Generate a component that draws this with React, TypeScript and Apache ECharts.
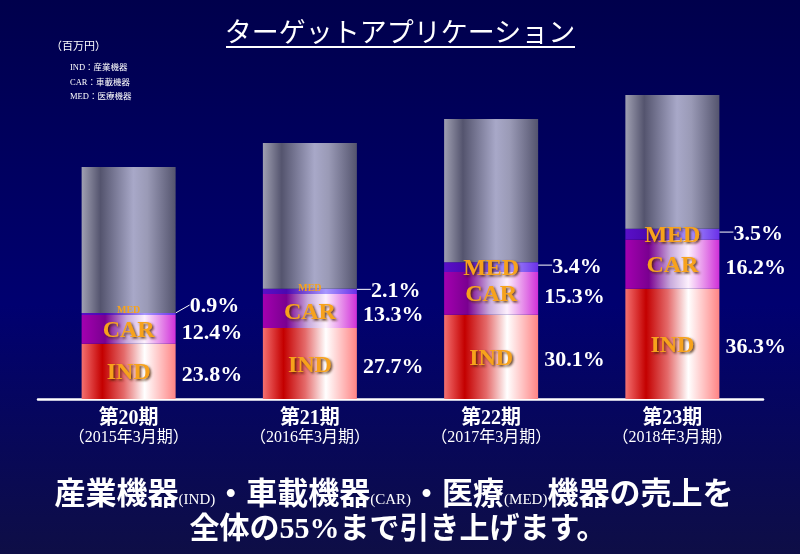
import React, { useEffect, useRef } from "react";
import * as echarts from "echarts";

// ---- data ----
const periods = ["第20期", "第21期", "第22期", "第23期"];
const fiscalYears = ["（2015年3月期）", "（2016年3月期）", "（2017年3月期）", "（2018年3月期）"];
// total sales (百万円)
const totalSales = [2900, 3200, 3500, 3800];
// share of total (%)
const indPct = [23.8, 27.7, 30.1, 36.3];
const carPct = [12.4, 13.3, 15.3, 16.2];
const medPct = [0.9, 2.1, 3.4, 3.5];
const legendLines = ["IND：産業機器", "CAR：車載機器", "MED：医療機器"];
const unitLabel = "（百万円）";
const titleText = "ターゲットアプリケーション";

const SERIF = "'Liberation Serif', 'Noto Sans CJK JP', serif";
const JP = "'Noto Sans CJK JP', 'Liberation Serif', sans-serif";

const grad = (stops: [number, string][]) => ({
  type: "linear",
  x: 0,
  y: 0,
  x2: 1,
  y2: 0,
  colorStops: stops.map(([offset, color]) => ({ offset, color })),
});

const indGrad = grad([
  [0, "#f47070"],
  [0.22, "#c40000"],
  [0.45, "#e46a6a"],
  [0.67, "#ffffff"],
  [1, "#ff8484"],
]);
const carGrad = grad([
  [0, "#a400b0"],
  [0.25, "#7a0090"],
  [0.48, "#c8aadc"],
  [0.67, "#fdf0fd"],
  [1, "#d030d8"],
]);
const medGrad = grad([
  [0, "#5a10c8"],
  [0.25, "#4a08b0"],
  [0.67, "#a898ff"],
  [1, "#6a30e8"],
]);
const otherGrad = grad([
  [0, "#a0a0b2"],
  [0.2, "#54546e"],
  [0.55, "#a8a8c8"],
  [0.7, "#9a9ab6"],
  [1, "#54546e"],
]);

const seg = (pct: number[]) => totalSales.map((t, i) => (t * pct[i]) / 100);
const indVals = seg(indPct);
const carVals = seg(carPct);
const medVals = seg(medPct);
const otherVals = totalSales.map((t, i) => (t * (100 - indPct[i] - carPct[i] - medPct[i])) / 100);

const nameLabel = {
  show: true,
  position: "inside",
  color: "#f7a21b",
  fontFamily: SERIF,
  fontWeight: "bold",
  fontSize: 24,
  textShadowColor: "rgba(70,30,0,0.85)",
  textShadowBlur: 2,
  textShadowOffsetX: 1.5,
  textShadowOffsetY: 1.5,
};

const pctLabel = (pct: number[]) => ({
  show: true,
  position: "right",
  distance: 6,
  offset: [0, 2],
  color: "#ffffff",
  fontFamily: SERIF,
  fontWeight: "bold",
  fontSize: 22,
  formatter: (p: any) => pct[p.dataIndex].toFixed(1) + "%",
});

export default function App() {
  const ref = useRef<HTMLDivElement>(null);
  useEffect(() => {
    if (!ref.current) return;
    const chart = echarts.init(ref.current, null, { renderer: "svg" });
    const common = { type: "bar", barWidth: 94, barGap: "-100%" };
    const option: any = {
      animation: false,
      grid: { left: 38, right: 37, top: 95, bottom: 155 },
      xAxis: {
        type: "category",
        data: periods,
        axisLine: { show: true, lineStyle: { color: "#ffffff", width: 2.5 } },
        axisTick: { show: false },
        axisLabel: {
          interval: 0,
          margin: 8,
          formatter: (v: string, i: number) => `{a|${v}}\n{b|${fiscalYears[i]}}`,
          rich: {
            a: { fontFamily: SERIF, fontWeight: "bold", fontSize: 20, lineHeight: 20, color: "#fff" },
            b: { fontFamily: SERIF, fontSize: 16, lineHeight: 19, color: "#fff" },
          },
        },
      },
      yAxis: { type: "value", min: 0, max: 3800, show: false, splitLine: { show: false } },
      graphic: [
        {
          type: "rect",
          z: -100,
          silent: true,
          shape: { x: 0, y: 0, width: 800, height: 554 },
          style: {
            fill: new echarts.graphic.LinearGradient(0, 0, 0, 1, [
              { offset: 0, color: "#00004c" },
              { offset: 0.55, color: "#000070" },
              { offset: 1, color: "#0e0e46" },
            ]),
          },
        },
        {
          type: "text",
          x: 400,
          y: 30,
          style: {
            text: titleText,
            fill: "#fff",
            font: `27px ${JP}`,
            textAlign: "center",
            textVerticalAlign: "middle",
          },
        },
        {
          type: "line",
          shape: { x1: 226, y1: 47, x2: 575, y2: 47 },
          style: { stroke: "#fff", lineWidth: 2 },
        },
        {
          type: "text",
          x: 51,
          y: 46,
          style: { text: unitLabel, fill: "#fff", font: `11px ${SERIF}`, textVerticalAlign: "middle" },
        },
        ...legendLines.map((t, i) => ({
          type: "text",
          x: 70,
          y: 67 + i * 14.5,
          style: { text: t, fill: "#fff", font: `8.5px ${SERIF}`, textVerticalAlign: "middle" },
        })),
        {
          type: "text",
          x: 394,
          y: 491,
          style: {
            text: "{b|産業機器}{s|(IND)}{b|・車載機器}{s|(CAR)}{b|・医療}{s|(MED)}{b|機器の売上を}",
            textAlign: "center",
            textVerticalAlign: "middle",
            rich: {
              b: { fontFamily: SERIF, fontSize: 31, fontWeight: "bold", fill: "#fff", lineHeight: 36, verticalAlign: "bottom" },
              s: { fontFamily: SERIF, fontSize: 15, fill: "#fff", lineHeight: 36, verticalAlign: "bottom", padding: [0, 0, 2, 0] },
            },
          },
        },
        {
          type: "text",
          x: 398,
          y: 527,
          style: {
            text: "全体の55%まで引き上げます。",
            fill: "#fff",
            font: `bold 30px ${SERIF}`,
            textAlign: "center",
            textVerticalAlign: "middle",
          },
        },
      ],
      series: [
        {
          ...common,
          name: "IND",
          stack: "v",
          data: indVals,
          itemStyle: { color: indGrad },
          label: { ...nameLabel, formatter: "IND" },
        },
        {
          ...common,
          name: "CAR",
          stack: "v",
          data: carVals,
          itemStyle: { color: carGrad },
          label: { ...nameLabel, formatter: "CAR" },
        },
        {
          ...common,
          name: "MED",
          stack: "v",
          data: medVals.map((v, i) => ({
            value: v,
            label:
              medPct[i] < 3
                ? { fontSize: 10, offset: [0, -4], textShadowBlur: 0, textShadowOffsetX: 0.5, textShadowOffsetY: 0.5 }
                : {},
          })),
          itemStyle: { color: medGrad },
          label: { ...nameLabel, formatter: "MED" },
        },
        {
          ...common,
          name: "other",
          stack: "v",
          data: otherVals,
          itemStyle: { color: otherGrad },
          label: { show: false },
        },
        // overlay (transparent) stack carrying the share labels on the right
        {
          ...common,
          name: "IND%",
          stack: "p",
          silent: true,
          data: indVals,
          itemStyle: { color: "rgba(0,0,0,0)" },
          label: pctLabel(indPct),
        },
        {
          ...common,
          name: "CAR%",
          stack: "p",
          silent: true,
          data: carVals,
          itemStyle: { color: "rgba(0,0,0,0)" },
          label: pctLabel(carPct),
        },
        {
          ...common,
          name: "MED%",
          stack: "p",
          silent: true,
          data: medVals,
          itemStyle: { color: "rgba(0,0,0,0)" },
          label: { ...pctLabel(medPct), offset: [0, 0] },
          labelLayout: (p: any) => ({ dx: 8, dy: medPct[p.dataIndex] < 1.5 ? -9 : -2 }),
          labelLine: { show: true, lineStyle: { color: "#ffffff", width: 1 } },
        },
      ],
    };
    chart.setOption(option);
    return () => chart.dispose();
  }, []);
  return (
    <div
      ref={ref}
      style={{ position: "fixed", left: 0, top: 0, width: 800, height: 554 }}
    />
  );
}
